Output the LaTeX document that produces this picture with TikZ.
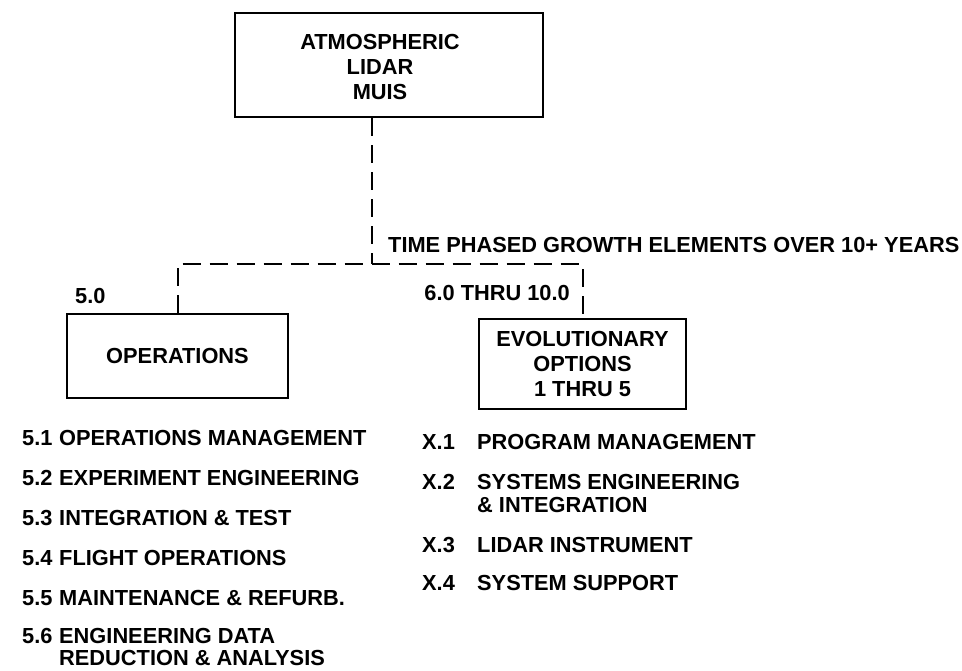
\documentclass[tikz,border=0pt]{standalone}
\usepackage{fontspec}
\setmainfont{Liberation Sans}
\begin{document}
\begin{tikzpicture}[x=1pt,y=-1pt,
  every node/.style={font=\fontsize{21.8}{25}\selectfont\bfseries, inner sep=0pt},
  boxnode/.style={draw, line width=2.4pt, align=center},
  dashline/.style={line width=2pt, dash pattern=on 18pt off 9pt},
  item/.style={anchor=base west}]
\useasboundingbox (0,0) rectangle (962,670);
% boxes
\node[boxnode, minimum width=308pt, minimum height=104pt] (top) at (389,65) {};
\node[align=center] (toptxt) at (380,67) {ATMOSPHERIC\\LIDAR\\MUIS};
\node[boxnode, minimum width=221pt, minimum height=84pt] (ops) at (177.5,356) {OPERATIONS};
\node[boxnode, minimum width=207pt, minimum height=90pt] (evo) at (582.5,364)
  {EVOLUTIONARY\\OPTIONS\\1 THRU 5};
% connectors
\coordinate (j) at (372,264);
\draw[dashline] (top.south -| j) -- (j);
\draw[dashline] (ops.north) |- (j) -| (evo.north);
% labels
\node[anchor=base west] (lt) at (388,252) {TIME PHASED GROWTH ELEMENTS OVER 10+ YEARS};
\node[anchor=base west] (l50) at (75,303) {5.0};
\node[anchor=base east] (l60) at (570,300) {6.0 THRU 10.0};
% left list
\node[item] (n51) at (22,445.5) {5.1}; \node[item] (t51) at (59,445.5) {OPERATIONS MANAGEMENT};
\node[item] (n52) at (22,485.5) {5.2}; \node[item] (t52) at (59,485.5) {EXPERIMENT ENGINEERING};
\node[item] (n53) at (22,525.5) {5.3}; \node[item] (t53) at (59,525.5) {INTEGRATION \& TEST};
\node[item] (n54) at (22,565.5) {5.4}; \node[item] (t54) at (59,565.5) {FLIGHT OPERATIONS};
\node[item] (n55) at (22,605.5) {5.5}; \node[item] (t55) at (59,605.5) {MAINTENANCE \& REFURB.};
\node[item] (n56) at (22,643) {5.6}; \node[item] (t56) at (59,643) {ENGINEERING DATA};
\node[item] (t56b) at (59,665.5) {REDUCTION \& ANALYSIS};
% right list
\node[item] (x1) at (422,449.5) {X.1}; \node[item] (tx1) at (477,449.5) {PROGRAM MANAGEMENT};
\node[item] (x2) at (422,489.5) {X.2}; \node[item] (tx2) at (477,489.5) {SYSTEMS ENGINEERING};
\node[item] (tx2b) at (477,512.5) {\& INTEGRATION};
\node[item] (x3) at (422,552.5) {X.3}; \node[item] (tx3) at (477,552.5) {LIDAR INSTRUMENT};
\node[item] (x4) at (422,590.5) {X.4}; \node[item] (tx4) at (477,590.5) {SYSTEM SUPPORT};
\end{tikzpicture}
\end{document}
